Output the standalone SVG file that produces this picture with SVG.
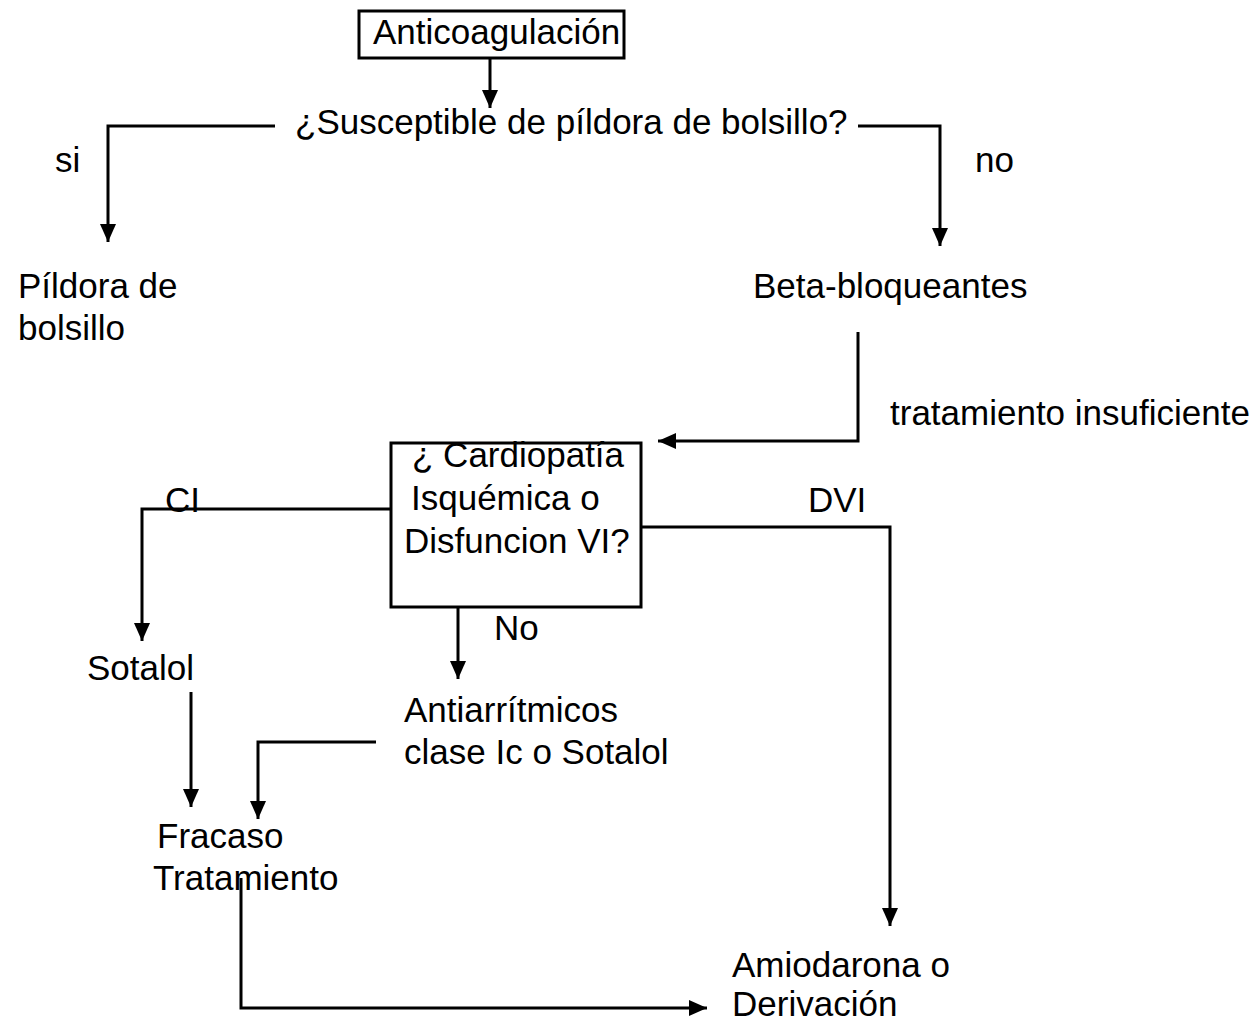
<svg xmlns="http://www.w3.org/2000/svg" width="1257" height="1022" viewBox="0 0 1257 1022">
  <style>
    text { font-family: "Liberation Sans", Arial, sans-serif; font-size: 35px; fill: #000; }
    .box { fill: #fff; stroke: #000; stroke-width: 3; }
    .link { fill: none; stroke: #000; stroke-width: 3; stroke-linejoin: miter; }
    .arrow { marker-end: url(#head); }
  </style>
  <defs>
    <marker id="head" markerUnits="userSpaceOnUse" markerWidth="18" markerHeight="16" refX="18" refY="8" orient="auto" viewBox="0 0 18 16">
      <path d="M0,0 L18,8 L0,16 z" fill="#000"/>
    </marker>
  </defs>
  <rect width="1257" height="1022" fill="#fff"/>

  <!-- connectors -->
  <g id="connectors">
    <path class="link arrow" d="M490,58 V108"/>
    <path class="link arrow" d="M275,126 H108 V242"/>
    <path class="link arrow" d="M858,126 H940 V246"/>
    <path class="link arrow" d="M858,332 V441 H658"/>
    <path class="link arrow" d="M390,509 H142 V641"/>
    <path class="link arrow" d="M641,527 H890 V926"/>
    <path class="link arrow" d="M458,607 V679"/>
    <path class="link arrow" d="M191,692 V807"/>
    <path class="link arrow" d="M376,742 H258 V819"/>
    <path class="link arrow" d="M241,878 V1008 H707"/>
  </g>

  <!-- edge labels -->
  <g id="labels">
    <text x="55" y="172">si</text>
    <text x="975" y="172">no</text>
    <text x="890" y="425">tratamiento insuficiente</text>
    <text x="165" y="512">CI</text>
    <text x="808" y="512">DVI</text>
    <text x="494" y="640">No</text>
  </g>

  <g id="n-anticoagulacion">
    <rect class="box" x="359" y="11" width="265" height="47"/>
    <text x="373" y="44">Anticoagulación</text>
  </g>

  <g id="n-susceptible">
    <text x="295" y="134">¿Susceptible de píldora de bolsillo?</text>
  </g>

  <g id="n-pildora">
    <text x="18" y="298">Píldora de</text>
    <text x="18" y="340">bolsillo</text>
  </g>

  <g id="n-beta">
    <text x="753" y="298">Beta-bloqueantes</text>
  </g>

  <g id="n-cardiopatia">
    <rect class="box" x="391" y="443" width="250" height="164"/>
    <text x="412" y="467">¿ Cardiopatía</text>
    <text x="411" y="510">Isquémica o</text>
    <text x="404" y="553">Disfuncion VI?</text>
  </g>

  <g id="n-sotalol">
    <text x="87" y="680">Sotalol</text>
  </g>

  <g id="n-antiarritmicos">
    <text x="404" y="722">Antiarrítmicos</text>
    <text x="404" y="764">clase Ic o Sotalol</text>
  </g>

  <g id="n-fracaso">
    <text x="157" y="848">Fracaso</text>
    <text x="153" y="890">Tratamiento</text>
  </g>

  <g id="n-amiodarona">
    <text x="732" y="977">Amiodarona o</text>
    <text x="732" y="1016">Derivación</text>
  </g>
</svg>
